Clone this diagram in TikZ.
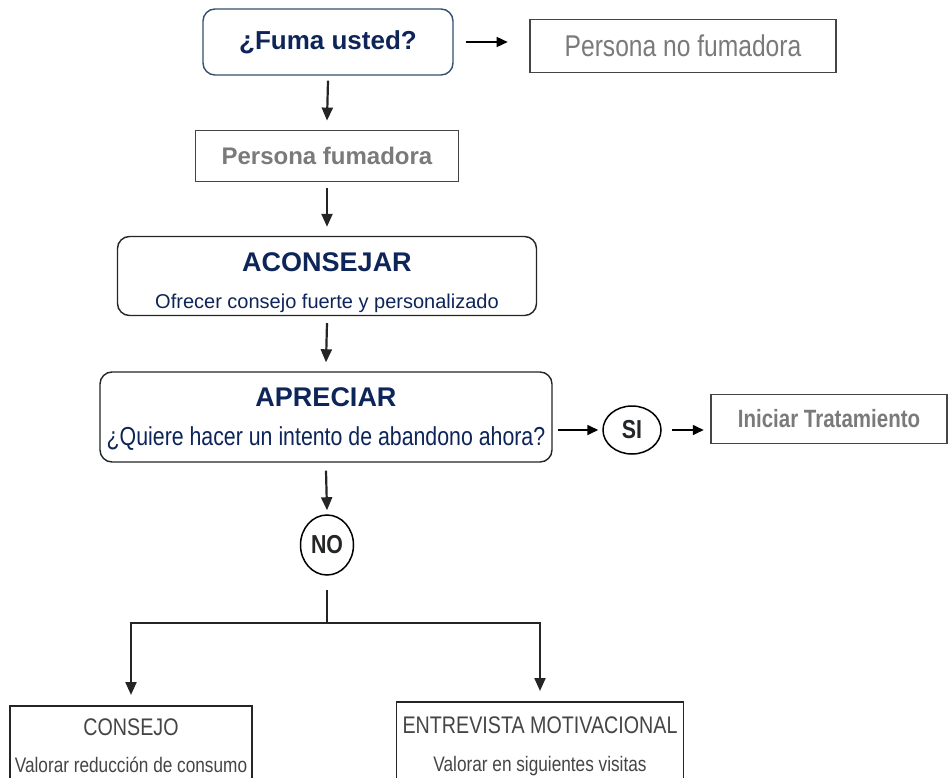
\documentclass[tikz,border=0pt]{standalone}
\usepackage{fontspec}
\setmainfont{Liberation Sans}
\newfontfamily\narrowfont{Liberation Sans}[FakeStretch=0.82]
\usetikzlibrary{arrows.meta}
\usetikzlibrary{positioning}
\usetikzlibrary{shapes.geometric}
\definecolor{myblack}{HTML}{232527}
\definecolor{mynavy}{HTML}{0E2559}
\definecolor{mygrey}{HTML}{7A7A7A}
\definecolor{mydark}{HTML}{454545}
\definecolor{myslate}{HTML}{34506E}
\newcommand{\setsize}[1]{\fontsize{#1}{#1}\selectfont}
\tikzset{every text node part/.style={align=center}}
\tikzstyle{block} = [draw=mydark, fill=white, line width=1.8pt, inner sep=0pt]
\tikzstyle{rblock} = [draw=myblack, fill=white, line width=1.4pt, inner sep=0pt, rounded corners=12pt, text=mynavy]
\tikzstyle{answer} = [draw=black, ellipse, line width=1.5pt, inner sep=0pt, font=\narrowfont\bfseries, text=myblack]
\tikzstyle{ln} = [draw=myblack, line width=2.2pt, -{Triangle[width=11pt,length=13pt]}]
\tikzstyle{sln} = [draw=black, line width=1.6pt, -{Triangle[width=10pt,length=11pt]}]

\begin{document}
\begin{tikzpicture}[x=1pt, y=-1pt]
  \clip (0,0) rectangle (951,778);
  \fill[white] (0,0) rectangle (951,778);
  % upper part
  \node[rblock, draw=myslate, minimum width=250pt, minimum height=66pt] (fuma) at (328,42) {\setsize{26}\bfseries ¿Fuma usted?};
  \node[block, minimum width=306pt, minimum height=53pt, text=mygrey, font=\narrowfont] (nofum) at (683,46) {\setsize{30}Persona no fumadora};
  \node[block, minimum width=263pt, minimum height=51pt, text=mygrey, font=\bfseries] (fum) at (327,156) {\setsize{24}Persona fumadora};
  \node[rblock, minimum width=419pt, minimum height=79pt] (acons) at (327,276) {\rule{0pt}{32pt}\setsize{27}\bfseries ACONSEJAR\\[21pt]\setsize{20}Ofrecer consejo fuerte y personalizado};
  \node[rblock, minimum width=452pt, minimum height=90pt] (aprec) at (326,417) {\rule{0pt}{23pt}\setsize{27}\bfseries APRECIAR\\[18pt]\narrowfont\setsize{26}¿Quiere hacer un intento de abandono ahora?};
  \node[answer, minimum width=58pt, minimum height=48pt] (si) at (632,430) {\setsize{26}SI};
  \node[block, minimum width=236pt, minimum height=49pt, text=mygrey, font=\narrowfont\bfseries] (inic) at (829,419) {\setsize{25}Iniciar Tratamiento};
  \node[answer, minimum width=53pt, minimum height=60pt] (no) at (327,545) {\setsize{26}NO};
  \coordinate (split) at (327,623);
  % lower part
  \node[block, draw=myblack, anchor=north, minimum width=242pt, minimum height=110pt] (consejo) at (131,705) {};
  \node[below=10pt of consejo.north, text=mydark, font=\narrowfont] (consejotxt) {\setsize{24}CONSEJO\\[21pt]\setsize{21}Valorar reducción de consumo};
  \node[block, draw=myblack, anchor=north, minimum width=287pt, minimum height=110pt] (entre) at (540,701) {};
  \node[below=12pt of entre.north, text=mydark, font=\narrowfont] (entretxt) {\setsize{24}ENTREVISTA MOTIVACIONAL\\[22pt]\setsize{21}Valorar en siguientes visitas};
  % connectors
  \draw[sln] ([xshift=12pt]fuma.east) -- +(42pt,0);
  \draw[ln] ([yshift=-5pt]fuma.south) -- ([yshift=9pt]fum.north);
  \draw[ln] ([yshift=-6pt]fum.south) -- ([yshift=9pt]acons.north);
  \draw[ln] ([yshift=-7pt]acons.south) -- ([yshift=9pt]aprec.north);
  \draw[sln] ([xshift=-44pt]si.west) -- ([xshift=-4pt]si.west);
  \draw[sln] ([xshift=10pt]si.east) -- +(32pt,0);
  \draw[ln] ([yshift=-8pt]aprec.south) -- ([yshift=4pt]no.north);
  \draw[draw=myblack, line width=2.2pt] ([yshift=-14pt]no.south) -- (split);
  \draw[ln] (split) -| ([yshift=10pt]consejo.north);
  \draw[ln] (split) -| ([yshift=10pt]entre.north);
\end{tikzpicture}
\end{document}
